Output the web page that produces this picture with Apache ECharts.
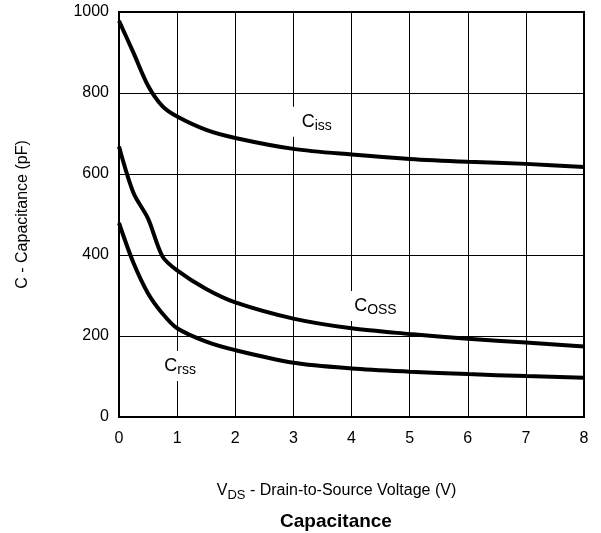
<!DOCTYPE html>
<html>
<head>
<meta charset="utf-8">
<script src="https://cdn.jsdelivr.net/npm/echarts@6/dist/echarts.min.js"></script>
<style>
  html, body { margin: 0; padding: 0; background: #fff; }
  #chart { width: 601px; height: 533px; }
</style>
</head>
<body>
<div id="chart"></div>
<script>
// capacitance vs drain-source voltage
var vds = [0, 0.25, 0.5, 0.75, 1, 1.5, 2, 3, 4, 5, 6, 7, 8];
var ciss = [978, 899, 818, 767, 742, 709, 689, 662, 648, 637, 630, 625, 617];
var coss = [668, 553, 490, 396, 362, 316, 283, 243, 219, 205, 193, 184, 174];
var crss = [479, 380, 305, 255, 219, 186, 165, 134, 120, 112, 106, 101, 97];

var xTicks = [0, 1, 2, 3, 4, 5, 6, 7, 8];
var yTicks = [0, 200, 400, 600, 800, 1000];

// where the curve names sit [V, pF]
var curveLabels = [
    { name: 'Ciss', pos: [3.35, 729], text: '{c|C}{s|iss}' },
    { name: 'Coss', pos: [4.36, 274], text: '{c|C}{s|OSS}' },
    { name: 'Crss', pos: [1.0, 126], text: '{c|C}{s|rss}' }
];

function pairs(ys) {
    return vds.map(function (v, i) { return [v, ys[i]]; });
}

var chart = echarts.init(document.getElementById('chart'), null, { renderer: 'canvas' });

var font = 'Liberation Sans, Arial, Helvetica, sans-serif';

function curve(name, ys) {
    return {
        name: name,
        type: 'line',
        data: pairs(ys),
        smooth: 0.3,
        symbol: 'none',
        lineStyle: { color: '#000', width: 4 },
        z: 3
    };
}

var option = {
    backgroundColor: '#fff',
    animation: false,
    textStyle: { fontFamily: font },
    title: {
        text: 'Capacitance',
        left: 280,
        top: 512,
        padding: 0,
        textStyle: { fontFamily: font, fontSize: 19, fontWeight: 'bold', color: '#000' }
    },
    grid: {
        left: 119,
        right: 17,
        top: 12,
        bottom: 116,
        show: true,
        borderColor: '#000',
        borderWidth: 2,
        backgroundColor: 'transparent'
    },
    xAxis: {
        type: 'value',
        min: 0,
        max: 8,
        interval: 1,
        axisLine: { show: true, lineStyle: { color: '#000', width: 2 } },
        axisTick: { show: false },
        splitLine: { show: true, lineStyle: { color: '#000', width: 1 } },
        axisLabel: {
            margin: 14,
            fontSize: 16,
            color: '#000',
            fontFamily: font,
            formatter: function (v) { return xTicks.indexOf(v) >= 0 ? String(v) : ''; }
        },
        name: '{n|V}{s|DS}{n| - Drain-to-Source Voltage (V)}',
        nameLocation: 'middle',
        nameGap: 64,
        nameTextStyle: {
            padding: [0, 30, 0, 0],
            rich: {
                n: { fontSize: 16, color: '#000', fontFamily: font, lineHeight: 20 },
                s: { fontSize: 13, color: '#000', fontFamily: font, lineHeight: 20, padding: [8, 0, 0, 0] }
            }
        }
    },
    yAxis: {
        type: 'value',
        min: 0,
        max: 1000,
        interval: 200,
        axisLine: { show: true, lineStyle: { color: '#000', width: 2 } },
        axisTick: { show: false },
        splitLine: { show: true, lineStyle: { color: '#000', width: 1 } },
        axisLabel: {
            margin: 10,
            fontSize: 16,
            color: '#000',
            fontFamily: font,
            formatter: function (v) { return yTicks.indexOf(v) >= 0 ? String(v) : ''; }
        },
        name: 'C - Capacitance (pF)',
        nameLocation: 'middle',
        nameGap: 88,
        nameTextStyle: { fontSize: 16, color: '#000', fontFamily: font }
    },
    series: [
        curve('Ciss', ciss),
        curve('Coss', coss),
        curve('Crss', crss),
        {
            type: 'scatter',
            symbolSize: 0,
            z: 4,
            itemStyle: { opacity: 1, color: '#000' },
            data: curveLabels.map(function (d) {
                return {
                    name: d.name,
                    value: d.pos,
                    label: {
                        show: true,
                        position: 'inside',
                        color: '#000',
                        opacity: 1,
                        formatter: d.text,
                        backgroundColor: '#fff',
                        padding: [4, 6, 4, 12],
                        rich: {
                            c: { fontSize: 18, color: '#000', fontFamily: font, lineHeight: 22 },
                            s: { fontSize: 14, color: '#000', fontFamily: font, lineHeight: 22, padding: [8, 0, 0, 0] }
                        }
                    }
                };
            })
        }
    ]
};

chart.setOption(option);
</script>
</body>
</html>
